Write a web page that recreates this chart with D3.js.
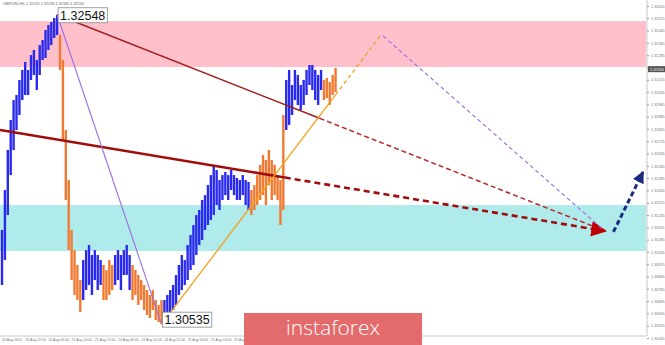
<!DOCTYPE html>
<html>
<head>
<meta charset="utf-8">
<script src="https://cdn.jsdelivr.net/npm/d3@7"></script>
<style>
  body { margin: 0; background: #fff; }
  svg { display: block; }
</style>
</head>
<body>
<div id="chart"></div>
<script>
// bar data (GBPUSD H1)
const highs = [1.31148,1.31408,1.31668,1.31863,1.31993,1.32026,1.32124,1.32189,1.32241,1.32189,
  1.32286,1.32319,1.32254,1.32351,1.32384,1.32449,1.32481,1.32501,1.32527,1.32548,
  1.32416,1.32254,1.31798,1.31473,1.31148,1.31017,1.30920,1.30822,1.30952,1.31017,
  1.31050,1.30985,1.31017,1.30985,1.30952,1.30920,1.30887,1.30952,1.30920,1.30985,
  1.31017,1.30985,1.31017,1.31050,1.30985,1.30920,1.30887,1.30855,1.30822,1.30790,
  1.30757,1.30725,1.30757,1.30692,1.30660,1.30692,1.30692,1.30725,1.30757,1.30790,
  1.30855,1.30920,1.30985,1.30952,1.31050,1.31115,1.31180,1.31245,1.31278,1.31343,
  1.31375,1.31440,1.31505,1.31571,1.31538,1.31473,1.31505,1.31525,1.31505,1.31538,
  1.31505,1.31486,1.31473,1.31505,1.31473,1.31460,1.31408,1.31440,1.31505,1.31571,
  1.31636,1.31603,1.31668,1.31603,1.31571,1.31505,1.31473,1.31896,1.32124,1.32189,
  1.32091,1.32189,1.32156,1.32091,1.32124,1.32189,1.32221,1.32221,1.32189,1.32156,
  1.32189,1.32124,1.32137,1.32110,1.32156,1.32202];
const lows = [1.30790,1.30952,1.31245,1.31505,1.31668,1.31798,1.31896,1.31993,1.32026,1.32026,
  1.32124,1.32156,1.32058,1.32156,1.32254,1.32267,1.32319,1.32351,1.32397,1.32416,
  1.32189,1.31733,1.31343,1.31017,1.30822,1.30725,1.30692,1.30614,1.30692,1.30757,
  1.30790,1.30725,1.30822,1.30757,1.30790,1.30692,1.30692,1.30725,1.30757,1.30790,
  1.30822,1.30757,1.30855,1.30855,1.30757,1.30692,1.30725,1.30660,1.30692,1.30627,
  1.30595,1.30575,1.30627,1.30562,1.30549,1.30535,1.30562,1.30575,1.30595,1.30627,
  1.30660,1.30725,1.30757,1.30790,1.30822,1.30887,1.30920,1.30985,1.31050,1.31083,
  1.31148,1.31180,1.31213,1.31245,1.31310,1.31278,1.31343,1.31375,1.31343,1.31408,
  1.31375,1.31343,1.31343,1.31375,1.31310,1.31278,1.31245,1.31278,1.31310,1.31343,
  1.31375,1.31310,1.31440,1.31343,1.31375,1.31343,1.31180,1.31278,1.31798,1.31831,
  1.31896,1.31993,1.31961,1.31928,1.31961,1.32026,1.32091,1.32058,1.31993,1.31961,
  1.32058,1.31993,1.32006,1.31961,1.32026,1.32045];

// wave colouring: first bar of each wave and its direction
const waveStart = [0, 20, 28, 35, 39, 45, 56, 86, 98, 111];
const waveDir   = ["up","down","up","down","up","down","up","down","up","down"];

const priceTicks = [1.32605,1.32525,1.32445,1.32365,1.32285,1.32205,1.32125,1.32045,1.31965,1.31885,
  1.31805,1.31725,1.31645,1.31565,1.31485,1.31405,1.31325,1.31245,1.31165,1.31085,1.31005,
  1.30925,1.30845,1.30765,1.30685,1.30605,1.30525,1.30445];
const timeLabels = ["20 Aug 2020","20 Aug 22:00","21 Aug 06:00","21 Aug 14:00","21 Aug 22:00",
  "24 Aug 06:00","24 Aug 14:00","24 Aug 22:00","25 Aug 06:00","25 Aug 14:00","25 Aug 22:00"];
const timeStep = 8;

const lastPrice = 1.32194;
const title = "GBPUSD,H1  1.32220 1.32236 1.32180 1.32194";

// zones
const sellZone = [1.32208, 1.32507];
const buyZone = [1.31011, 1.31310];

// wave marks [barIndex, price]
const peak = [19, 1.32548];
const low = [55, 1.30535];
const target = [208, 1.31141];
const trendStart = [-0.7, 1.31798];
const projTop = [130.4, 1.32410];
const purpleEnd = [207, 1.31154];
const rebound = [[210.8, 1.31135], [221, 1.31525]];

const W = 665, H = 345;
const plotR = 646, plotB = 336;

const svg = d3.select("#chart").append("svg")
  .attr("width", W).attr("height", H)
  .style("font-family", "Arial, 'Liberation Sans', sans-serif");

const x = d3.scaleLinear().domain([0, 221]).range([2, 643]);
const y = d3.scaleLinear().domain([1.30445, 1.32605]).range([338, 6]);

// zones
svg.append("rect").attr("x", 0).attr("width", plotR)
  .attr("y", y(sellZone[1])).attr("height", y(sellZone[0]) - y(sellZone[1]))
  .attr("fill", "#ffc0cb");
svg.append("rect").attr("x", 0).attr("width", plotR)
  .attr("y", y(buyZone[1])).attr("height", y(buyZone[0]) - y(buyZone[1]))
  .attr("fill", "#b0ebec");

// frame
svg.append("line").attr("x1", plotR + 1).attr("x2", plotR + 1).attr("y1", 0).attr("y2", plotB)
  .attr("stroke", "#c8c8c8");
svg.append("line").attr("x1", 0).attr("x2", plotR + 1).attr("y1", plotB).attr("y2", plotB)
  .attr("stroke", "#c8c8c8");

// bars
const dirOf = i => waveDir[d3.bisectRight(waveStart, i) - 1];
const colors = { up: "#2a2aee", down: "#f07a32" };
svg.append("g").selectAll("line")
  .data(highs)
  .join("line")
  .attr("x1", (d, i) => x(i)).attr("x2", (d, i) => x(i))
  .attr("y1", d => y(d)).attr("y2", (d, i) => y(lows[i]))
  .attr("stroke", (d, i) => colors[dirOf(i)])
  .attr("stroke-width", 2.4);

// markers
const defs = svg.append("defs");
defs.append("marker").attr("id", "redHead")
  .attr("viewBox", "0 0 10 10").attr("refX", 9).attr("refY", 5)
  .attr("markerWidth", 6).attr("markerHeight", 6).attr("orient", "auto")
  .append("path").attr("d", "M0,0 L10,5 L0,10 Z").attr("fill", "#c00000");
defs.append("marker").attr("id", "blueHead")
  .attr("viewBox", "0 0 10 10").attr("refX", 9).attr("refY", 5)
  .attr("markerWidth", 4).attr("markerHeight", 4).attr("orient", "auto")
  .append("path").attr("d", "M0,0 L10,5 L0,10 Z").attr("fill", "#1a2a80");

// helper: point on a segment at bar index
const at = (a, b, i) => [i, a[1] + (b[1] - a[1]) * (i - a[0]) / (b[0] - a[0])];
const seg = (a, b, color, w, dash, marker) => {
  const l = svg.append("line")
    .attr("x1", x(a[0])).attr("y1", y(a[1]))
    .attr("x2", x(b[0])).attr("y2", y(b[1]))
    .attr("stroke", color).attr("stroke-width", w);
  if (dash) l.attr("stroke-dasharray", dash);
  if (marker) l.attr("marker-end", marker);
};

// upper trend line (peak -> target)
const upSplit = at(peak, target, 109.5);
seg(peak, upSplit, "#a0201e", 1.5);
seg(upSplit, target, "#b52a2a", 1.5, "5,3");

// lower thick trend line
const loSplit = at(trendStart, target, 97.5);
seg(trendStart, loSplit, "#a00c0c", 2.6);
seg(loSplit, target, "#a00c0c", 2.6, "6,4", "url(#redHead)");

// purple wave line peak -> low
seg(peak, low, "#9a6ee0", 1.1);
// orange wave line low -> projection
const orSplit = at(low, projTop, 115);
seg(low, orSplit, "#f5a21c", 1.3);
seg(orSplit, projTop, "#f5a21c", 1.3, "4,3");
// purple dashed projection
seg([projTop[0] + 1, projTop[1]], purpleEnd, "#9a6ee0", 1.1, "4,3");
// navy rebound arrow
seg(rebound[0], rebound[1], "#1a2a80", 3, "5,3", "url(#blueHead)");

// price boxes
const box = (i, p, dy) => {
  const g = svg.append("g").attr("transform", `translate(${x(i) + 1},${y(p) + dy})`);
  const t = g.append("text").attr("x", 2).attr("y", 12).attr("font-size", 12.5)
    .attr("fill", "#111").text(p.toFixed(5));
  const bb = t.node().getBBox();
  g.insert("rect", "text").attr("x", 0).attr("y", 0)
    .attr("width", bb.width + 4).attr("height", 15)
    .attr("fill", "#fff").attr("stroke", "#888").attr("stroke-width", 0.8);
};
box(peak[0], peak[1], -7);
box(low[0], low[1], -12);

// right price axis
const axis = svg.append("g").attr("transform", `translate(${plotR + 1},0)`)
  .call(d3.axisRight(y).tickValues(priceTicks).tickSize(2).tickFormat(d3.format(".5f")));
axis.select(".domain").remove();
axis.selectAll("line").attr("stroke", "#999");
axis.selectAll("text").attr("font-size", 3.8).attr("fill", "#777").attr("x", 4);

// current price label
const cp = svg.append("g").attr("transform", `translate(${plotR + 2},${y(lastPrice)})`);
cp.append("rect").attr("x", 0).attr("y", -3).attr("width", 18).attr("height", 6).attr("fill", "#555");
cp.append("text").attr("x", 2).attr("y", 1.5).attr("font-size", 3.8).attr("fill", "#fff")
  .text(lastPrice.toFixed(5));

// time labels
svg.append("g").selectAll("text")
  .data(timeLabels)
  .join("text")
  .attr("x", (d, k) => x(k * timeStep))
  .attr("y", 341)
  .attr("font-size", 3.5)
  .attr("fill", "#777")
  .text(d => d);

// title
svg.append("text").attr("x", 3).attr("y", 5).attr("font-size", 3.8).attr("fill", "#666").text(title);

// watermark logo
svg.append("rect").attr("x", 244).attr("y", 313).attr("width", 178).attr("height", 32)
  .attr("fill", "#e46b6c");
svg.append("text").attr("x", 333).attr("y", 335)
  .attr("text-anchor", "middle")
  .attr("font-family", "'Open Sans', sans-serif").attr("font-weight", 300)
  .attr("font-size", 21).attr("fill", "#fff")
  .text("instaforex");
</script>
</body>
</html>
